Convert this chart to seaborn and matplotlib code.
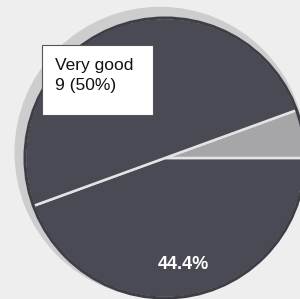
import matplotlib.pyplot as plt
import seaborn as sns
from matplotlib.patches import Circle, Rectangle

# slices counter-clockwise, starting at the lower-left edge
labels = ["Good", "Fair", "Very good"]
counts = [8, 1, 9]
colors = ["#4a4a55", "#a6a6a8", "#4a4a55"]

sns.set_theme(style="white")
plt.rcParams['font.family'] = ['Liberation Sans', 'DejaVu Sans']

fig = plt.figure(figsize=(3.0, 2.99), dpi=100)
fig.patch.set_facecolor("#eeeeee")
ax = fig.add_axes([0, 0, 1, 1])
ax.set_facecolor("#eeeeee")

total = sum(counts)


def pct_label(p):
    # only the big lower slice carries its percentage inside
    return f"{p:.1f}%" if abs(p - 100 * counts[0] / total) < 0.1 else ""


ax.add_patch(Circle((-0.035, 0.04), 1.035, color="#cdcdcd", zorder=0))
wedges, texts, autotexts = ax.pie(
    counts, colors=colors, startangle=200, counterclock=True,
    autopct=pct_label, pctdistance=0.77,
    wedgeprops=dict(edgecolor="#e4e4e4", linewidth=1.8),
    textprops=dict(color="white", fontsize=13, fontweight="bold"))
for w in wedges:
    w.set_zorder(1)
# dark rim over the outer arc so only the slice borders stay light
ax.add_patch(Circle((0, 0), 1.0, fill=False, edgecolor="#3e3e46", linewidth=2.2, zorder=2))

# callout box for the largest slice
fig.add_artist(Rectangle((42 / 300, 1 - 115 / 299), 111 / 300, 70 / 299,
                         transform=fig.transFigure, facecolor="white",
                         edgecolor="#555555", linewidth=0.8, zorder=3))
big = labels.index("Very good")
fig.text(55 / 300, 1 - 58 / 299,
         f"{labels[big]}\n{counts[big]} ({100 * counts[big] / total:.0f}%)",
         fontsize=12.5, color="#111111", ha="left", va="top", linespacing=1.45,
         zorder=4)

ax.set_aspect("auto")
ax.set_xlim(-165 / 140, (300 - 165) / 140)
ax.set_ylim(-(299 - 158) / 140, 158 / 140)
ax.axis("off")

fig.savefig("out.png", dpi=100, facecolor=fig.get_facecolor())
